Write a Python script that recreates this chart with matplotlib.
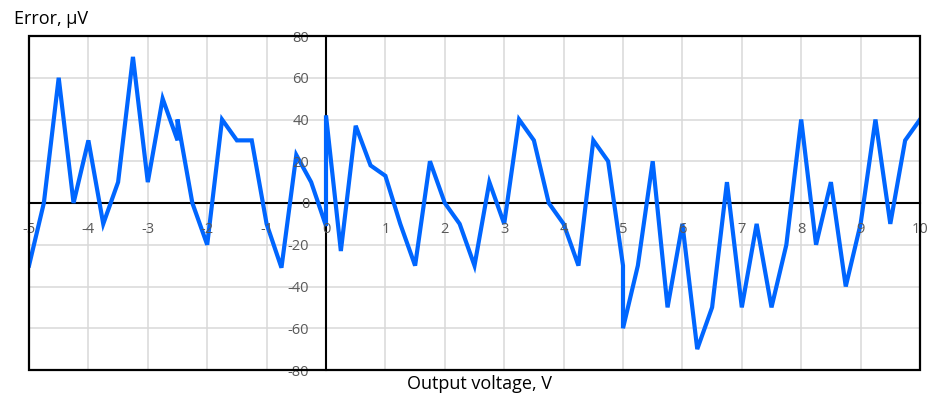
import matplotlib
matplotlib.use("Agg")
import matplotlib.pyplot as plt
from matplotlib.patches import Rectangle

plt.rcParams['font.family'] = ['Open Sans', 'DejaVu Sans']
plt.rcParams['axes.unicode_minus'] = False

# output voltage (V) and error (uV)
voltage = [-5, -4.75, -4.5, -4.25, -4, -3.75, -3.5, -3.25, -3, -2.75, -2.5, -2.5,
           -2.25, -2, -1.75, -1.5, -1.25, -1, -0.75, -0.5, -0.25, 0, 0,
           0.25, 0.5, 0.75, 1, 1.25, 1.5, 1.75, 2, 2.25, 2.5, 2.75, 3, 3.25,
           3.5, 3.75, 4, 4.25, 4.5, 4.75, 5, 5, 5.25, 5.5, 5.75, 6, 6.25,
           6.5, 6.75, 7, 7.25, 7.5, 7.75, 8, 8.25, 8.5, 8.75, 9, 9.25, 9.5,
           9.75, 10]
error = [-30, 0, 60, 0, 30, -10, 10, 70, 10, 50, 30, 40,
         0, -20, 40, 30, 30, -10, -31, 23, 10, -11, 42,
         -23, 37, 18, 13, -10, -30, 20, 0, -10, -30, 10, -10, 40,
         30, 0, -10, -30, 30, 20, -30, -60, -30, 20, -50, -10, -70,
         -50, 10, -50, -10, -50, -20, 40, -20, 10, -40, -10, 40, -10,
         30, 40]

x_ticks = list(range(-5, 11))
y_ticks = list(range(-80, 81, 20))

fig = plt.figure(figsize=(9.37, 4.03), dpi=100)
ax = fig.add_axes([29 / 937, 33 / 403, 891 / 937, 334 / 403])

# grid drawn by hand so tick labels can sit above the data line
for t in x_ticks:
    ax.axvline(t, color='#d9d9d9', linewidth=1.1, zorder=0.5)
for t in y_ticks:
    ax.axhline(t, color='#d9d9d9', linewidth=1.1, zorder=0.5)

ax.plot(voltage, error, color='#0066ff', linewidth=3.0, zorder=3,
        solid_joinstyle='miter')

ax.set_xlim(-5, 10)
ax.set_ylim(-80, 80)
ax.set_xticks(x_ticks)
ax.set_yticks(y_ticks)
ax.xaxis.set_zorder(3.5)
ax.yaxis.set_zorder(3.5)

# axes cross at zero
ax.spines['left'].set_position(('data', 0))
ax.spines['bottom'].set_position(('data', 0))
ax.spines['right'].set_visible(False)
ax.spines['top'].set_visible(False)
for s in ['left', 'bottom']:
    ax.spines[s].set_linewidth(1.5)
    ax.spines[s].set_color('black')
    ax.spines[s].set_zorder(2)

ax.tick_params(axis='both', length=0, labelsize=10.5, labelcolor='#595959')
ax.tick_params(axis='x', pad=14)
ax.tick_params(axis='y', pad=12)

# outer frame
ax.add_patch(Rectangle((0, 0), 1, 1, transform=ax.transAxes, fill=False,
                       edgecolor='black', linewidth=1.6, clip_on=False, zorder=4))

fig.text(14 / 937, 1 - 19 / 403, 'Error, µV', fontsize=13, va='center', ha='left')
fig.text(480 / 937, 1 - 384 / 403, 'Output voltage, V', fontsize=13,
         va='center', ha='center')

fig.savefig('out.png', dpi=100)
